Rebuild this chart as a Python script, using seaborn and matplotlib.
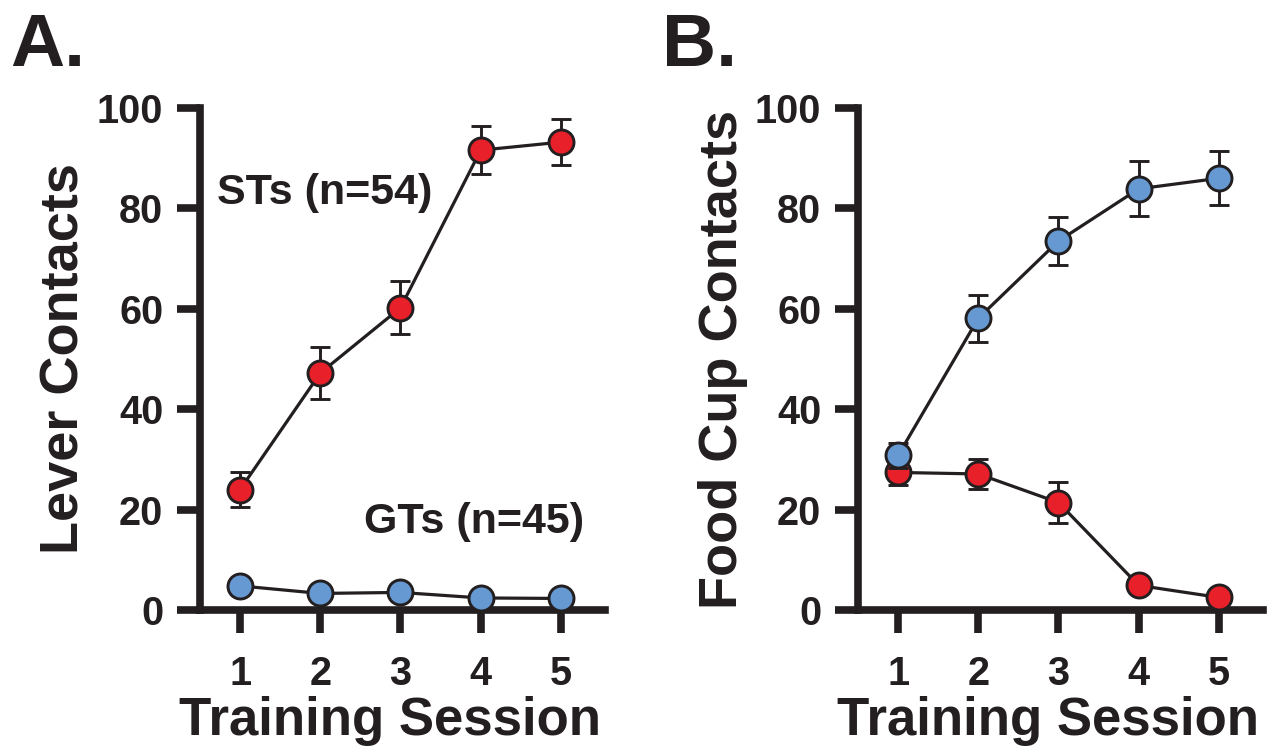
import numpy as np
import pandas as pd
import matplotlib
matplotlib.use("Agg")
import matplotlib.pyplot as plt
import seaborn as sns

sessions = [1, 2, 3, 4, 5]

# panel A - lever contacts
lever_st = [24.0, 47.2, 60.2, 91.6, 93.2]
lever_st_sem = [3.5, 5.1, 5.3, 4.8, 4.6]
lever_gt = [4.8, 3.3, 3.5, 2.4, 2.3]
lever_gt_sem = [0.8, 0.6, 0.6, 0.5, 0.5]

# panel B - food cup contacts
food_gt = [30.8, 58.1, 73.5, 83.9, 86.0]
food_gt_sem = [2.5, 4.7, 4.8, 5.5, 5.4]
food_st = [27.4, 27.1, 21.4, 4.9, 2.5]
food_st_sem = [2.5, 3.0, 4.0, 0.8, 0.6]

RED = "#E8202A"
BLUE = "#6699D2"
INK = "#231F20"

sns.set_style("ticks")
plt.rcParams["font.family"] = ["Liberation Sans", "DejaVu Sans"]
plt.rcParams["font.weight"] = "bold"
plt.rcParams["axes.labelweight"] = "bold"

fig = plt.figure(figsize=(12.78, 7.53), dpi=100)
axA = fig.add_axes([200 / 1278, 143 / 753, 405 / 1278, 502 / 753])
axB = fig.add_axes([858 / 1278, 143 / 753, 405 / 1278, 502 / 753])


def draw_group(ax, y, sem, color, z):
    df = pd.DataFrame({"session": sessions, "value": y})
    ax.errorbar(sessions, y, yerr=sem, fmt="none", ecolor=INK, elinewidth=2.1,
                capsize=7, capthick=2.1, zorder=z, clip_on=False)
    sns.lineplot(data=df, x="session", y="value", ax=ax, color=INK, lw=2.3,
                 marker="o", markersize=18, markerfacecolor=color,
                 markeredgecolor=INK, markeredgewidth=2.1, zorder=z + 1,
                 clip_on=False)


def style_axes(ax, ylabel):
    ax.set_xlim(0.5, 5.55)
    ax.set_ylim(0, 100)
    ax.set_xticks(sessions)
    ax.set_yticks([0, 20, 40, 60, 80, 100])
    sns.despine(ax=ax)
    for s in ("left", "bottom"):
        ax.spines[s].set_linewidth(5.5)
        ax.spines[s].set_color(INK)
    ax.tick_params(length=16.5, width=5.5, color=INK, labelsize=28.5,
                   labelcolor=INK, pad=10)
    ax.tick_params(axis="x", pad=16)
    ax.set_xlabel("Training Session", fontsize=38, color=INK)
    ax.set_ylabel(ylabel, fontsize=39, color=INK, labelpad=5)
    # x label sits a little left of centre, under the whole axis line
    ax.xaxis.set_label_coords(0.47, -0.172)
    for lab in ax.get_xticklabels() + ax.get_yticklabels():
        lab.set_fontweight("bold")


draw_group(axA, lever_st, lever_st_sem, RED, 3)
draw_group(axA, lever_gt, lever_gt_sem, BLUE, 5)
style_axes(axA, "Lever Contacts")
axA.text(0.71, 83, "STs (n=54)", fontsize=31, fontweight="bold", color=INK,
         va="center", ha="left")
axA.text(2.54, 17.5, "GTs (n=45)", fontsize=31, fontweight="bold", color=INK,
         va="center", ha="left")

draw_group(axB, food_st, food_st_sem, RED, 3)
draw_group(axB, food_gt, food_gt_sem, BLUE, 5)
style_axes(axB, "Food Cup Contacts")

fig.text(10 / 1278, 1 - 12 / 753, "A.", fontsize=54, fontweight="bold",
         color=INK, va="top", ha="left")
fig.text(662 / 1278, 1 - 12 / 753, "B.", fontsize=54, fontweight="bold",
         color=INK, va="top", ha="left")

fig.savefig("out.png", dpi=100, facecolor="white")
